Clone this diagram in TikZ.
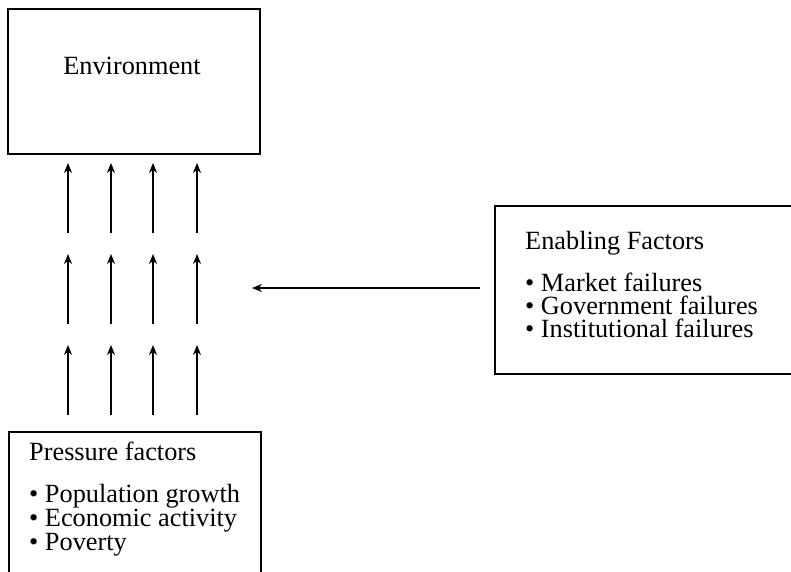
\documentclass[tikz,border=0pt]{standalone}
\usepackage{fontspec}
\setmainfont{Liberation Serif}
\usetikzlibrary{arrows.meta}
\begin{document}
\begin{tikzpicture}[x=1pt,y=-1pt,
  boxline/.style={draw=black,line width=1.1pt},
  txt/.style={inner sep=0pt,anchor=base west,text height=0.68em,text depth=0.17em,
    font=\fontsize{26.3}{24}\selectfont},
  flow/.style={line width=1.1pt,-{Stealth[length=10pt,width=8pt]}}]
\useasboundingbox (0,0) rectangle (791,571);
\clip (0,0) rectangle (791,571);
\fill[white] (0,0) rectangle (791,571);

% Environment box
\node[boxline,minimum width=252pt,minimum height=145pt,inner sep=0pt] (env) at (134,81.5) {};
\node[txt,anchor=base] (envtext) at (132,74) {Environment};

% Pressure factors box (runs past the lower edge)
\draw[boxline] (9,600) |- (261,432) -- (261,600);
\node[txt] (ptitle) at (29,460) {Pressure factors};
\node[txt] (p1) at (29,502) {\textbullet\ Population growth};
\node[txt] (p2) at (29,526) {\textbullet\ Economic activity};
\node[txt] (p3) at (29,550) {\textbullet\ Poverty};

% Enabling factors box (runs past the right edge)
\draw[boxline] (800,206) -| (495,374) -- (800,374);
\node[txt] (etitle) at (525,249) {Enabling Factors};
\node[txt] (e1) at (525,291) {\textbullet\ Market failures};
\node[txt] (e2) at (525,314) {\textbullet\ Government failures};
\node[txt] (e3) at (525,337) {\textbullet\ Institutional failures};

% Horizontal arrow from the enabling factors
\coordinate (hstart) at (480,288);
\coordinate (hend) at (252,288);
\draw[flow] (hstart) -- (hend);

% Three rows of four upward arrows
\foreach \c [count=\i] in {68,111,153,197}{
  \coordinate (a1s\i) at (\c,233); \coordinate (a1e\i) at (\c,163);
  \coordinate (a2s\i) at (\c,324); \coordinate (a2e\i) at (\c,254);
  \coordinate (a3s\i) at (\c,415); \coordinate (a3e\i) at (\c,345);
  \draw[flow] (a1s\i) -- (a1e\i);
  \draw[flow] (a2s\i) -- (a2e\i);
  \draw[flow] (a3s\i) -- (a3e\i);
}
\end{tikzpicture}
\end{document}
